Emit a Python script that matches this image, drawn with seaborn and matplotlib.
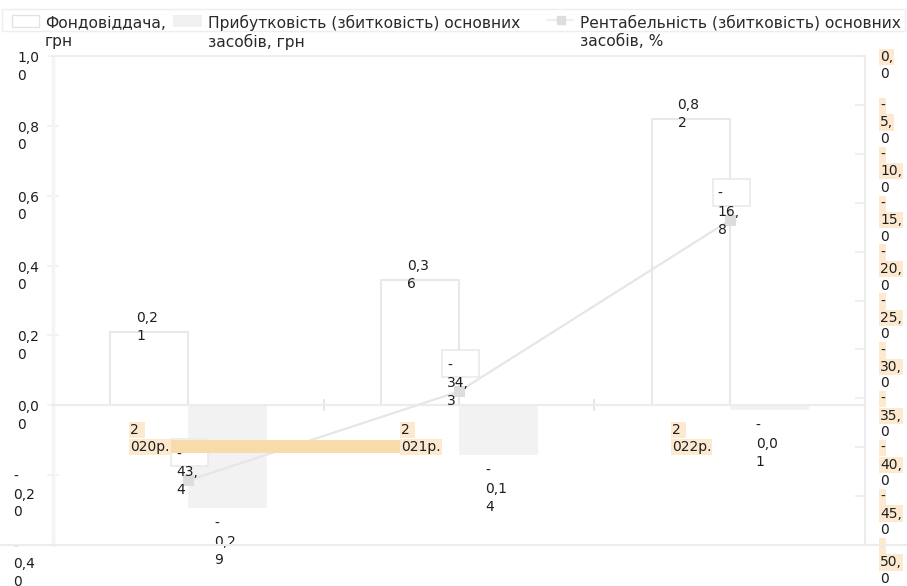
import numpy as np
import pandas as pd
import matplotlib
matplotlib.use("Agg")
import matplotlib.pyplot as plt
import seaborn as sns
from matplotlib.patches import Rectangle
from matplotlib.lines import Line2D
from matplotlib.transforms import IdentityTransform

# ---- data -------------------------------------------------------------
years = ["2020р.", "2021р.", "2022р."]
fondovidd = [0.21, 0.36, 0.82]          # Фондовіддача, грн
prybutk = [-0.29, -0.14, -0.01]         # Прибутковість (збитковість) основних засобів, грн
rentab = [-43.4, -34.3, -16.8]          # Рентабельність (збитковість) основних засобів, %
series_names = [
    "Фондовіддача, грн",
    "Прибутковість (збитковість) основних засобів, грн",
    "Рентабельність (збитковість) основних засобів, %",
]
legend_lines = [
    ["Фондовіддача,", "грн"],
    ["Прибутковість (збитковість) основних", "засобів, грн"],
    ["Рентабельність (збитковість) основних", "засобів, %"],
]
left_ticks = [-0.4, -0.2, 0.0, 0.2, 0.4, 0.6, 0.8, 1.0]
right_ticks = [0, -5, -10, -15, -20, -25, -30, -35, -40, -45, -50]

# ---- style ------------------------------------------------------------
W, H = 907, 586
sns.set_theme(style="white")
plt.rcParams["font.family"] = ["DejaVu Sans"]
plt.rcParams["font.size"] = 10
TXT = "#1e1e1e"
GRID = "#ececec"
HL = "#fde9cf"      # label highlight
BAND = "#f8dbab"

fig = plt.figure(figsize=(W / 100, H / 100), dpi=100)


def fx(px):
    return px / W


def fy(py):
    return 1 - py / H


def fmt(v, nd):
    return f"{v:.{nd}f}".replace(".", ",")


def stack(s, after_comma=False):
    lines = []
    if s.startswith("-"):
        lines.append("-")
        s = s[1:]
    if after_comma:
        a, b = s.split(",")
        lines += [a + ",", b]
    else:
        lines += [s[i:i + 3] for i in range(0, len(s), 3)]
    return lines


def put_lines(axis, lines, xy, xycoords, dx, y0, step, bg=None, zorder=6):
    for i, line in enumerate(lines):
        box = None
        if bg is not None and bg[i]:
            box = dict(boxstyle="square,pad=0.08", fc=HL, ec="none")
        axis.annotate(line, xy=xy, xycoords=xycoords, xytext=(dx, y0 - i * step),
                      textcoords="offset pixels", ha="left", va="center",
                      color=TXT, fontsize=10, annotation_clip=False,
                      bbox=box, zorder=zorder)


# ---- bars -------------------------------------------------------------
ax = fig.add_axes([fx(53), fy(545), (865 - 53) / W, (545 - 56) / H])
df = pd.DataFrame({
    "year": years * 2,
    "series": [series_names[0]] * 3 + [series_names[1]] * 3,
    "value": fondovidd + prybutk,
})
sns.barplot(data=df, x="year", y="value", hue="series", order=years,
            hue_order=series_names[:2], palette=["#ffffff", "#f2f2f2"],
            width=0.577, saturation=1, errorbar=None, legend=False, ax=ax)
for bar in ax.containers[0]:
    bar.set_edgecolor("#e8e8e8")
    bar.set_linewidth(1.5)
for bar in ax.containers[1]:
    bar.set_edgecolor("#f2f2f2")
    bar.set_linewidth(0.5)

ax.set_xlim(-0.5, 2.5)
ax.set_ylim(-0.4, 1.0)
ax.set_xlabel("")
ax.set_ylabel("")
ax.set_xticks([0.5, 1.5])
ax.set_yticks(left_ticks)
ax.tick_params(axis="x", direction="inout", length=9, width=1.2, color="#e3e3e3",
               labelbottom=False, bottom=True)
ax.tick_params(axis="y", direction="inout", length=8, width=1.2, color="#f0f0f0",
               labelleft=False, left=True)
ax.spines["bottom"].set_position(("data", 0))
ax.spines["bottom"].set_color(GRID)
ax.spines["bottom"].set_linewidth(1.5)
ax.spines["top"].set_color(GRID)
ax.spines["top"].set_linewidth(1.2)
ax.spines["left"].set_color("#f4f4f4")
ax.spines["left"].set_linewidth(2.5)
ax.spines["right"].set_visible(False)

# plot floor line running across the full width
fig.add_artist(Line2D([0, 1], [fy(545), fy(545)], transform=fig.transFigure,
                      color=GRID, lw=1.5))

# ---- line on secondary axis -------------------------------------------
ax2 = ax.twinx()
sns.lineplot(x=np.arange(len(years)), y=rentab, ax=ax2, color="#e6e6e6", lw=1.6,
             marker="s", markersize=7, markerfacecolor="#dddddd",
             markeredgecolor="#dddddd", zorder=3)
ax2.set_xlim(-0.5, 2.5)
ax2.set_ylim(-50, 0)
ax2.set_yticks(right_ticks)
ax2.set_ylabel("")
ax2.tick_params(axis="y", direction="in", length=7, width=1.2, color=GRID,
                labelright=False, right=True)
for side in ("left", "top", "bottom"):
    ax2.spines[side].set_visible(False)
ax2.spines["right"].set_color(GRID)
ax2.spines["right"].set_linewidth(1.5)

# ---- axis labels --------------------------------------------------------
for v in left_ticks:
    put_lines(ax, stack(fmt(v, 2)), (17 if v >= 0 else 13, v),
              ("figure pixels", "data"), 0, -2, 17.5)
for v in right_ticks:
    lines = stack(fmt(v, 1), after_comma=True)
    put_lines(ax2, lines, (880, v), ("figure pixels", "data"), 0, -1, 16.5,
              bg=[True] * (len(lines) - 1) + [False])

# ---- label boxes and highlight band -------------------------------------
pts = ax2.transData.transform(np.column_stack([np.arange(len(years)), rentab]))
for px, py in pts:
    ax2.add_artist(Rectangle((px - 17, py + 14), 37, 27, transform=IdentityTransform(),
                             fc="white", ec="#eaeaea", lw=1.2, zorder=4, clip_on=False))
zero_y = ax.transData.transform((0, 0))[1]
cat1_x = ax.transData.transform((1, 0))[0]
band_x0 = pts[0][0] - 17
ax2.add_artist(Rectangle((band_x0, zero_y - 48), (cat1_x - 56) - band_x0, 13,
                         transform=IdentityTransform(), fc=BAND, ec="none",
                         zorder=5, clip_on=False))

# ---- category labels -----------------------------------------------------
for i, yr in enumerate(years):
    put_lines(ax2, [yr[0] + " ", yr[1:]], (i, 0), ax.transData, -58, -25, 16.5,
              bg=[True, True])

# ---- value labels --------------------------------------------------------
for container, values in zip(ax.containers, [fondovidd, prybutk]):
    for bar, val in zip(container, values):
        cx = bar.get_x() + bar.get_width() / 2
        y0 = 14 if val >= 0 else -17
        put_lines(ax2, stack(fmt(val, 2)), (cx, val), ax.transData, -13, y0, 18)

for i, val in enumerate(rentab):
    put_lines(ax2, stack(fmt(val, 1), after_comma=True), (i, val), ax2.transData,
              -12, 26, 18)

# ---- legend --------------------------------------------------------------
fig.add_artist(Rectangle((fx(2), fy(31)), fx(903), 22 / H, transform=fig.transFigure,
                         fc="none", ec="#eeeeee", lw=1))
fig.add_artist(Rectangle((fx(12), fy(27)), fx(27), 12 / H, transform=fig.transFigure,
                         fc="white", ec="#e3e3e3", lw=1))
fig.add_artist(Rectangle((fx(173), fy(27)), fx(29), 12 / H, transform=fig.transFigure,
                         fc="#f0f0f0", ec="none"))
fig.add_artist(Line2D([fx(547), fx(573)], [fy(20), fy(20)], transform=fig.transFigure,
                      color="#eeeeee", lw=1.5))
fig.add_artist(Line2D([fx(561)], [fy(20)], transform=fig.transFigure, marker="s",
                      markersize=6, color="#dddddd", linestyle="none"))
for x0, lines in zip([45, 208, 580], legend_lines):
    for k, line in enumerate(lines):
        fig.text(fx(x0), fy(23 + k * 18.5), line, ha="left", va="center",
                 color="#2a2a2a", fontsize=11.2)

fig.savefig("out.png", dpi=100)
